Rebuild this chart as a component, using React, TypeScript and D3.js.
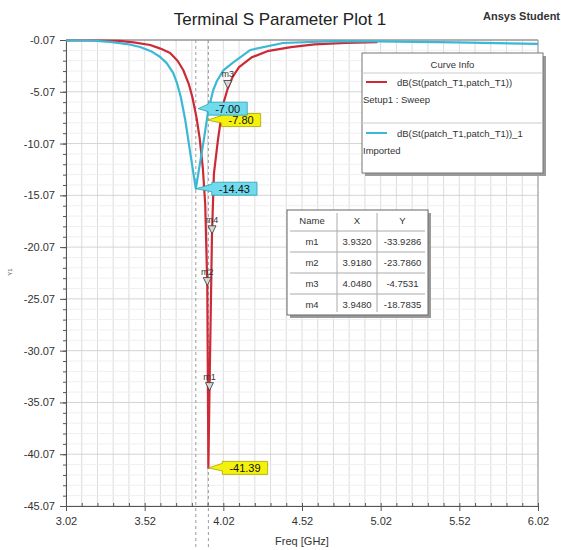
import React, { useEffect, useRef } from 'react'
import * as d3 from 'd3'

// red curve: dB(St(patch_T1,patch_T1)), Setup1 : Sweep
const redFreq = [3.02, 3.2, 3.36, 3.45, 3.555, 3.62, 3.682, 3.73, 3.765, 3.8, 3.823, 3.85, 3.87, 3.89, 3.905, 3.918, 3.925, 3.932, 3.948, 3.96, 3.985, 4.0, 4.02, 4.048, 4.08, 4.12, 4.2, 4.3, 4.45, 4.6, 4.8, 5.0]
const redDb = [-0.12, -0.12, -0.15, -0.3, -0.55, -0.9, -1.32, -2.1, -2.97, -4.3, -5.57, -7.6, -9.6, -12.5, -16.0, -23.79, -41.39, -33.93, -18.78, -13.0, -9.8, -8.2, -6.2, -4.75, -3.6, -2.7, -1.75, -1.15, -0.75, -0.5, -0.35, -0.28]

// cyan curve: dB(St(patch_T1,patch_T1))_1, Imported
const cyanFreq = [3.02, 3.17, 3.3, 3.409, 3.491, 3.56, 3.619, 3.66, 3.702, 3.725, 3.75, 3.778, 3.81, 3.845, 3.893, 3.924, 3.956, 3.98, 4.02, 4.077, 4.19, 4.4, 4.72, 5.0, 5.5, 6.02]
const cyanDb = [-0.1, -0.12, -0.25, -0.46, -0.75, -1.15, -1.71, -2.3, -3.26, -4.2, -5.6, -7.8, -11.0, -14.43, -10.0, -6.9, -4.9, -4.0, -3.0, -2.3, -1.04, -0.36, -0.17, -0.2, -0.3, -0.45]

const xTickValues = [3.02, 3.52, 4.02, 4.52, 5.02, 5.52, 6.02]
const xTickLabels = ['3.02', '3.52', '4.02', '4.52', '5.02', '5.52', '6.02']
const yTickValues = [-0.07, -5.07, -10.07, -15.07, -20.07, -25.07, -30.07, -35.07, -40.07, -45.07]
const yTickLabels = ['-0.07', '-5.07', '-10.07', '-15.07', '-20.07', '-25.07', '-30.07', '-35.07', '-40.07', '-45.07']

// marker table
const markerNames = ['m1', 'm2', 'm3', 'm4']
const markerX = ['3.9320', '3.9180', '4.0480', '3.9480']
const markerY = ['-33.9286', '-23.7860', '-4.7531', '-18.7835']

// vertical dashed marker lines
const lineFreqs = [3.845, 3.925]

// value callouts: anchor point and text
const calloutLabels = ['-7.80', '-7.00', '-14.43', '-41.39']
const calloutFreq = [3.92, 3.86, 3.845, 3.925]
const calloutDb = [-7.8, -6.7, -14.43, -41.39]
const calloutKind = ['red', 'cyan', 'cyan', 'red']
const calloutGap = [14, 10, 16, 14]

const W = 561
const H = 550
const FONT = 'Liberation Sans, Arial, sans-serif'

function Chart() {
    const ref = useRef<SVGSVGElement>(null)

    useEffect(() => {
        const svg = d3.select(ref.current)
        svg.selectAll('*').remove()

        const left = 66, right = 538, top = 40, bottom = 506
        const x = d3.scaleLinear().domain([3.02, 6.02]).range([left, right])
        const y = d3.scaleLinear().domain([-0.07, -45.07]).range([top, bottom])

        svg.append('rect').attr('width', W).attr('height', H).attr('fill', '#fff')

        // grid
        const grid = svg.append('g')
        const vGrid = d3.range(0, 31).map(i => 3.02 + i * 0.1)
        grid.selectAll('line.v').data(vGrid).enter().append('line')
            .attr('x1', d => x(d)).attr('x2', d => x(d))
            .attr('y1', top).attr('y2', bottom)
            .attr('stroke', '#dcdcdc').attr('stroke-width', 1)
        const hMinor = d3.range(0, 46).map(i => -0.07 - i)
        grid.selectAll('line.h').data(hMinor).enter().append('line')
            .attr('x1', left).attr('x2', right)
            .attr('y1', d => y(d)).attr('y2', d => y(d))
            .attr('stroke', d => (Math.round(-d - 0.07) % 5 === 0 ? '#d4d4d4' : '#efefef'))
            .attr('stroke-width', 1)

        // border
        svg.append('line').attr('x1', left).attr('x2', right).attr('y1', top).attr('y2', top)
            .attr('stroke', '#777').attr('stroke-width', 1.2)
        svg.append('line').attr('x1', right).attr('x2', right).attr('y1', top).attr('y2', bottom)
            .attr('stroke', '#999').attr('stroke-width', 1)

        // dashed marker lines
        svg.selectAll('line.dash').data(lineFreqs).enter().append('line')
            .attr('x1', d => x(d)).attr('x2', d => x(d))
            .attr('y1', top).attr('y2', H)
            .attr('stroke', '#9a9a9a').attr('stroke-width', 1)
            .attr('stroke-dasharray', '3,3')

        // axes
        const yAxis = svg.append('g').attr('transform', `translate(${left},0)`)
            .call(d3.axisLeft(y).tickValues(yTickValues).tickSize(6)
                .tickFormat((d, i) => yTickLabels[i]))
        const yMinor = svg.append('g').attr('transform', `translate(${left},0)`)
            .call(d3.axisLeft(y).tickValues(hMinor).tickSize(3).tickFormat(() => ''))
        const xAxis = svg.append('g').attr('transform', `translate(0,${bottom})`)
            .call(d3.axisBottom(x).tickValues(xTickValues).tickSize(5)
                .tickFormat((d, i) => xTickLabels[i]))
        const xMinor = svg.append('g').attr('transform', `translate(0,${bottom})`)
            .call(d3.axisTop(x).tickValues(vGrid).tickSize(3).tickFormat(() => ''))
        for (const g of [yAxis, yMinor, xAxis, xMinor]) {
            g.select('.domain').attr('stroke', '#555')
            g.selectAll('.tick line').attr('stroke', '#555')
            g.selectAll('text').attr('font-family', FONT).attr('font-size', 11).attr('fill', '#333')
        }
        xAxis.selectAll('text').attr('dy', '1.0em')
        yAxis.selectAll('text').attr('dx', '-2')

        // curves
        const line = d3.line<[number, number]>().x(d => x(d[0])).y(d => y(d[1]))
        const redPts = redFreq.map((f, i) => [f, redDb[i]] as [number, number])
        const cyanPts = cyanFreq.map((f, i) => [f, cyanDb[i]] as [number, number])
        svg.append('path').attr('d', line(redPts)).attr('fill', 'none')
            .attr('stroke', '#cc2a36').attr('stroke-width', 2.2).attr('stroke-linejoin', 'round')
        svg.append('path').attr('d', line(cyanPts)).attr('fill', 'none')
            .attr('stroke', '#3bb8d6').attr('stroke-width', 2.2).attr('stroke-linejoin', 'round')

        // markers
        const mk = svg.append('g')
        markerNames.forEach((name, i) => {
            const px = x(+markerX[i])
            const py = y(+markerY[i])
            mk.append('path')
                .attr('d', `M${px},${py} L${px - 4},${py - 8} L${px + 4},${py - 8} Z`)
                .attr('fill', '#d8d8d8').attr('stroke', '#333').attr('stroke-width', 0.8)
            mk.append('text').attr('x', px).attr('y', py - 11)
                .attr('text-anchor', 'middle').attr('font-family', FONT)
                .attr('font-size', 9).attr('fill', '#333').text(name)
        })

        // callouts
        calloutLabels.forEach((label, i) => {
            const tx = x(calloutFreq[i])
            const ty = y(calloutDb[i])
            const bx = tx + calloutGap[i]
            const g = svg.append('g')
            const t = g.append('text').attr('font-family', FONT).attr('font-size', 11)
                .attr('fill', '#111').text(label)
            const tw = (t.node() as SVGTextElement).getComputedTextLength()
            const bw = tw + 14
            const bh = 13
            const yt = ty - bh / 2
            const isCyan = calloutKind[i] === 'cyan'
            g.insert('path', 'text')
                .attr('d', `M${tx},${ty} L${bx},${yt + 2} L${bx},${yt} L${bx + bw},${yt} L${bx + bw},${yt + bh} L${bx},${yt + bh} L${bx},${ty + 3} Z`)
                .attr('fill', isCyan ? '#6fdbec' : '#f4f20c')
                .attr('stroke', isCyan ? '#2c9db5' : '#a8a400').attr('stroke-width', 0.8)
            t.attr('x', bx + 7).attr('y', ty + 4)
        })

        // curve info legend
        const lg = svg.append('g')
        const lx = 362, ly = 53, lw = 181, lh = 120
        lg.append('rect').attr('x', lx + 3).attr('y', ly + 3).attr('width', lw).attr('height', lh).attr('fill', '#9a9a9a')
        lg.append('rect').attr('x', lx).attr('y', ly).attr('width', lw).attr('height', lh)
            .attr('fill', '#fff').attr('stroke', '#777')
        lg.append('text').attr('x', lx + lw / 2).attr('y', ly + 15).attr('text-anchor', 'middle')
            .attr('font-family', FONT).attr('font-size', 9.5).attr('fill', '#333').text('Curve Info')
        lg.append('line').attr('x1', lx).attr('x2', lx + lw).attr('y1', ly + 20).attr('y2', ly + 20).attr('stroke', '#ccc')
        lg.append('line').attr('x1', lx).attr('x2', lx + lw).attr('y1', ly + 70).attr('y2', ly + 70).attr('stroke', '#ccc')
        const entries = [
            { color: '#cc2a36', name: 'dB(St(patch_T1,patch_T1))', sub: 'Setup1 : Sweep', yy: ly + 29 },
            { color: '#3bb8d6', name: 'dB(St(patch_T1,patch_T1))_1', sub: 'Imported', yy: ly + 80 },
        ]
        entries.forEach(e => {
            lg.append('line').attr('x1', lx + 4).attr('x2', lx + 25).attr('y1', e.yy).attr('y2', e.yy)
                .attr('stroke', e.color).attr('stroke-width', 2)
            lg.append('text').attr('x', lx + 35).attr('y', e.yy + 3.5).attr('font-family', FONT)
                .attr('font-size', 9.5).attr('fill', '#333').text(e.name)
            lg.append('text').attr('x', lx + 1).attr('y', e.yy + 21).attr('font-family', FONT)
                .attr('font-size', 9.5).attr('fill', '#333').text(e.sub)
        })

        // marker table
        const tb = svg.append('g')
        const tx0 = 287, ty0 = 210, rowH = 21
        const colX = [287, 337, 377, 428]
        const tH = rowH * 5
        tb.append('rect').attr('x', tx0 + 3).attr('y', ty0 + 3).attr('width', colX[3] - tx0).attr('height', tH).attr('fill', '#9a9a9a')
        tb.append('rect').attr('x', tx0).attr('y', ty0).attr('width', colX[3] - tx0).attr('height', tH)
            .attr('fill', '#fff').attr('stroke', '#666')
        for (let r = 1; r < 5; r++) {
            tb.append('line').attr('x1', tx0 + 3).attr('x2', colX[3] - 3)
                .attr('y1', ty0 + r * rowH).attr('y2', ty0 + r * rowH).attr('stroke', '#aaa')
        }
        for (let c = 1; c < 3; c++) {
            tb.append('line').attr('x1', colX[c]).attr('x2', colX[c])
                .attr('y1', ty0 + 3).attr('y2', ty0 + tH - 3).attr('stroke', '#aaa')
        }
        const rows = [['Name', 'X', 'Y']].concat(markerNames.map((n, i) => [n, markerX[i], markerY[i]]))
        rows.forEach((row, r) => {
            row.forEach((cell, c) => {
                tb.append('text').attr('x', (colX[c] + colX[c + 1]) / 2).attr('y', ty0 + r * rowH + 14)
                    .attr('text-anchor', 'middle').attr('font-family', FONT)
                    .attr('font-size', 9.5).attr('fill', '#333').text(cell)
            })
        })

        // titles
        svg.append('text').attr('x', 280).attr('y', 25).attr('text-anchor', 'middle')
            .attr('font-family', FONT).attr('font-size', 17).attr('fill', '#222')
            .text('Terminal S Parameter Plot 1')
        svg.append('text').attr('x', 483).attr('y', 20)
            .attr('font-family', FONT).attr('font-size', 11).attr('font-weight', 'bold').attr('fill', '#333')
            .text('Ansys Student')
        svg.append('text').attr('x', 302).attr('y', 545).attr('text-anchor', 'middle')
            .attr('font-family', FONT).attr('font-size', 11).attr('fill', '#333').text('Freq [GHz]')
        svg.append('text').attr('transform', 'translate(12,272) rotate(-90)').attr('text-anchor', 'middle')
            .attr('font-family', FONT).attr('font-size', 6).attr('fill', '#444').text('Y1')
    }, [])

    return <svg ref={ref} width={W} height={H} style={{ display: 'block' }} />
}

export default function App() {
    return (
        <div style={{ position: 'absolute', left: 0, top: 0, width: W, height: H, overflow: 'hidden' }}>
            <Chart />
        </div>
    )
}
